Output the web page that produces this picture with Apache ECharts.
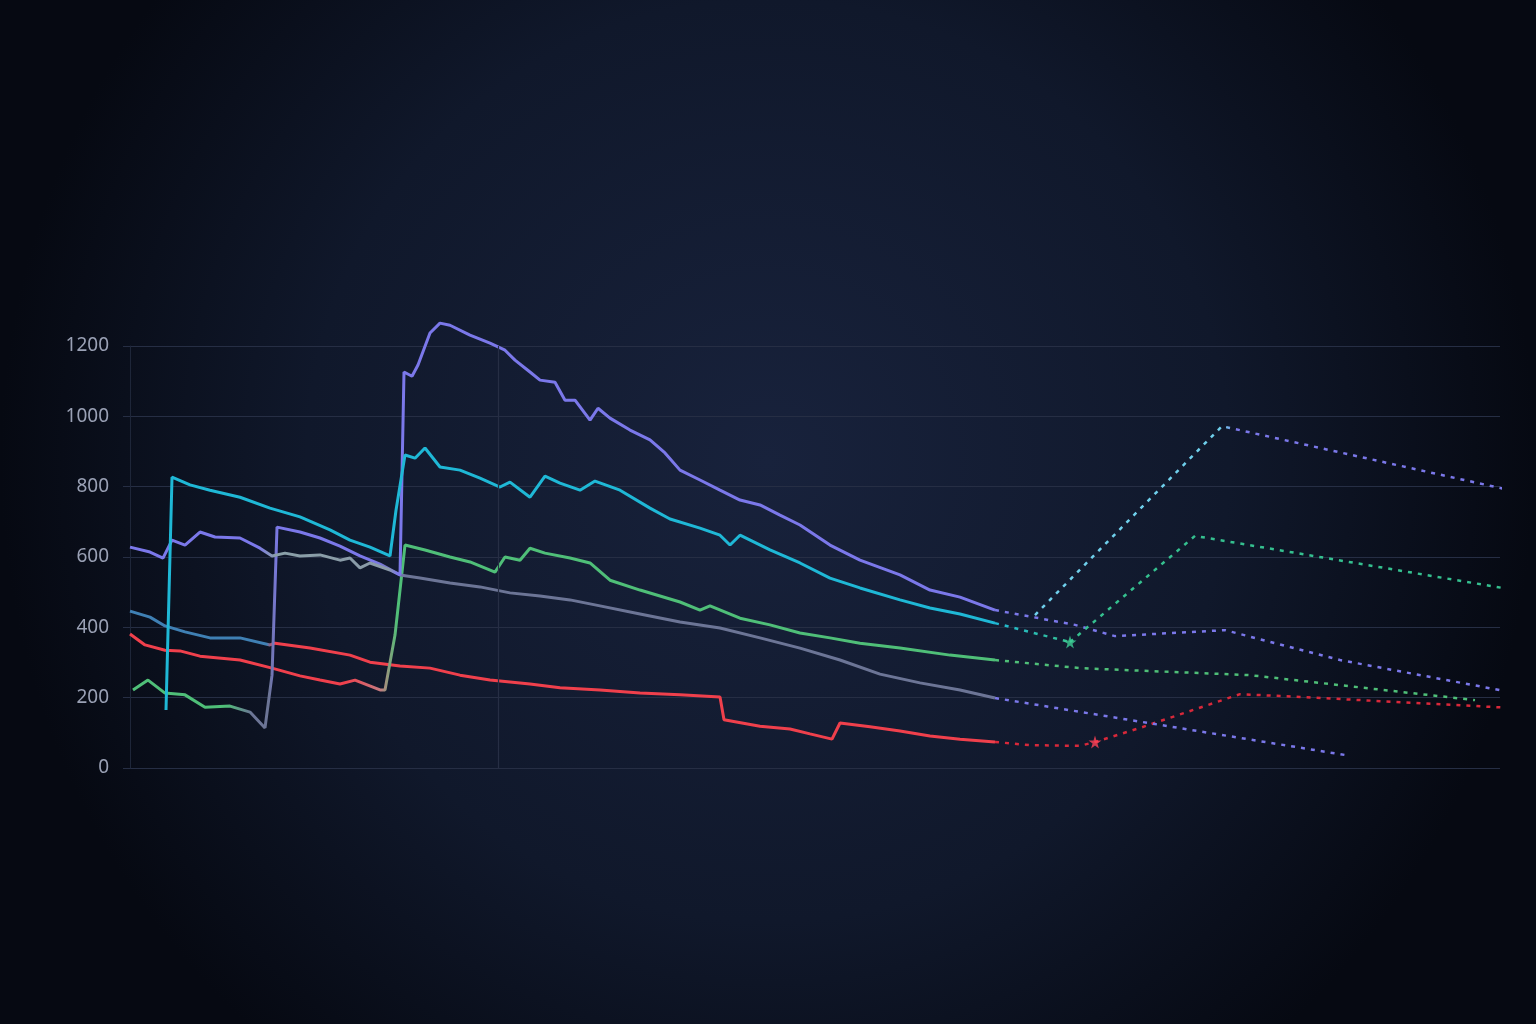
<!DOCTYPE html>
<html><head><meta charset="utf-8">
<script src="https://cdn.jsdelivr.net/npm/echarts@6/dist/echarts.min.js"></script>
<style>html,body{margin:0;padding:0;background:#070a14}#c{width:1536px;height:1024px}</style>
</head><body><div id="c"></div>
<script>
const yTicks = [0, 200, 400, 600, 800, 1000, 1200];
const s1 = [[0,446],[20,429],[35,404],[55,387],[80,370],[110,370],[140,350],[145,355],[180,341],[220,321],[240,301],[270,290],[300,284],[330,264],[360,250],[400,239],[430,228],[470,222],[510,213],[550,208],[590,202],[594,137],[630,119],[660,111],[680,97],[702,82],[710,128],[740,117],[770,105],[800,91],[830,82],[865,74]];
const s1f = [[865,74],[900,65],[950,63],[965,74],[1010,114],[1110,210],[1170,202],[1380,171]];
const s2 = [[0,381],[15,350],[35,335],[50,333],[70,318],[110,307],[142,284],[170,262],[190,250],[210,239],[225,250],[250,222],[255,222],[265,378],[275,634],[295,620],[320,600],[340,586],[365,557],[375,600],[390,591],[400,625],[415,611],[440,597],[460,583],[480,534],[510,506],[550,472],[570,449],[580,461],[610,426],[640,407],[670,384],[700,370],[730,355],[770,341],[820,321],[865,307]];
const s2f = [[865,307],[950,284],[1120,264],[1345,193]];
const s3 = [[3,222],[18,250],[35,213],[55,208],[75,173],[100,176],[120,159],[135,114],[142,264],[147,685],[170,671],[190,654],[210,631],[230,603],[250,580],[270,549],[290,540],[320,526],[350,515],[380,498],[410,489],[440,478],[470,461],[510,438],[550,415],[590,398],[630,370],[670,341],[710,307],[750,267],[790,242],[830,222],[865,199]];
const s3f = [[865,199],[1215,37]];
const s4 = [[0,628],[20,614],[33,597],[42,648],[55,634],[70,671],[85,657],[110,654],[130,625],[142,603],[155,611],[170,603],[190,606],[210,591],[220,597],[230,569],[240,583],[260,563],[270,549],[274,1126],[282,1114],[288,1146],[300,1237],[310,1265],[320,1259],[340,1231],[360,1208],[375,1188],[385,1160],[400,1126],[410,1103],[425,1097],[435,1046],[445,1046],[460,989],[468,1023],[480,995],[500,961],[520,933],[535,896],[550,847],[570,819],[590,790],[610,762],[630,748],[650,719],[670,691],[700,634],[730,591],[770,549],[800,506],[830,486],[865,449]];
const s4f = [[865,449],[945,407],[985,375],[1095,392],[1210,307],[1380,216]];
const s5 = [[36,165],[42,827],[60,805],[80,790],[110,770],[140,739],[170,714],[200,677],[220,648],[240,628],[260,603],[266,733],[275,890],[285,881],[295,910],[310,856],[330,847],[350,824],[370,799],[380,813],[400,770],[415,830],[430,810],[450,790],[465,816],[490,790],[520,739],[540,708],[570,682],[590,662],[600,634],[610,662],[640,620],[670,583],[700,540],[730,512],[770,478],[800,455],[830,438],[865,412]];
const s5f = [[865,412],[940,358]];
const s6f = [[940,358],[1065,660],[1385,506]];
const s7f = [[905,435],[1092,972],[1380,790]];
const stars = [[940,358,'#3fd096'],[965,74,'#ff4257']];

const P='#7b78ea',C='#1fb8d6',G='#4fbf78',GR='#6c7596',R='#f0404c',SB='#3f80b4';
function grad(stops){return {type:'linear',x:0,y:0,x2:1,y2:0,colorStops:stops.map(s=>({offset:s[0],color:s[1]}))};}
function solid(data,color){return {type:'line',data,symbol:'none',clip:false,smooth:false,lineStyle:{width:3,color},z:3};}
function dash(data,color){return {type:'line',data,symbol:'none',clip:false,lineStyle:{width:2.5,color,type:[4,6]},z:2};}
const star='path://M50,0 L61,35 L98,35 L68,57 L79,91 L50,70 L21,91 L32,57 L2,35 L39,35 Z';

const chart = echarts.init(document.getElementById('c'));
chart.setOption({
  backgroundColor:{type:'radial',x:0.5,y:0.45,r:0.75,colorStops:[{offset:0,color:'#18223c'},{offset:0.6,color:'#10182b'},{offset:1,color:'#060912'}]},
  animation:false,
  grid:{left:123,right:36,top:346,bottom:256},
  xAxis:{type:'value',min:-7,max:1370,axisLabel:{show:false},axisTick:{show:false},axisLine:{show:false},splitLine:{show:false}},
  yAxis:{type:'value',min:yTicks[0],max:yTicks[yTicks.length-1],interval:200,
    axisLine:{show:true,lineStyle:{color:'#1e2639'}},axisTick:{show:false},
    axisLabel:{color:'#9aa1b5',fontSize:19,fontFamily:'Noto Sans',margin:14,formatter:v=>String(v)},
    splitLine:{lineStyle:{color:'#262e44',width:1.2}}},
  series:[
    Object.assign(solid(s1,grad([[0,SB],[0.16,SB],[0.168,R],[1,R]])),{markLine:{silent:true,symbol:'none',label:{show:false},lineStyle:{color:'#262e44',type:'solid',width:1.2},data:[{xAxis:368}]}}),
    solid(s2,grad([[0,R],[0.25,R],[0.29,'#c77a80'],[0.31,G],[1,G]])),
    solid(s3,grad([[0,G],[0.11,G],[0.14,GR],[0.16,GR],[0.17,P],[0.28,P],[0.32,GR],[1,GR]])),
    solid(s4,grad([[0,P],[0.15,P],[0.17,'#8aa0a8'],[0.30,'#8a9aa8'],[0.31,P],[1,P]])),
    solid(s5,C),
    dash(s1f,'#d8283a'),
    dash(s2f,G),
    dash(s3f,P),
    dash(s4f,P),
    dash(s5f,grad([[0,C],[1,'#35c08f']])),
    dash(s6f,'#35c08f'),
    dash(s7f,grad([[0,'#6fd0ec'],[0.4,'#6fd0ec'],[0.42,P],[1,P]])),
    {type:'scatter',symbol:star,symbolSize:13,z:5,data:stars.map(s=>({value:[s[0],s[1]],itemStyle:{color:s[2]}}))}
  ]
});
</script></body></html>
